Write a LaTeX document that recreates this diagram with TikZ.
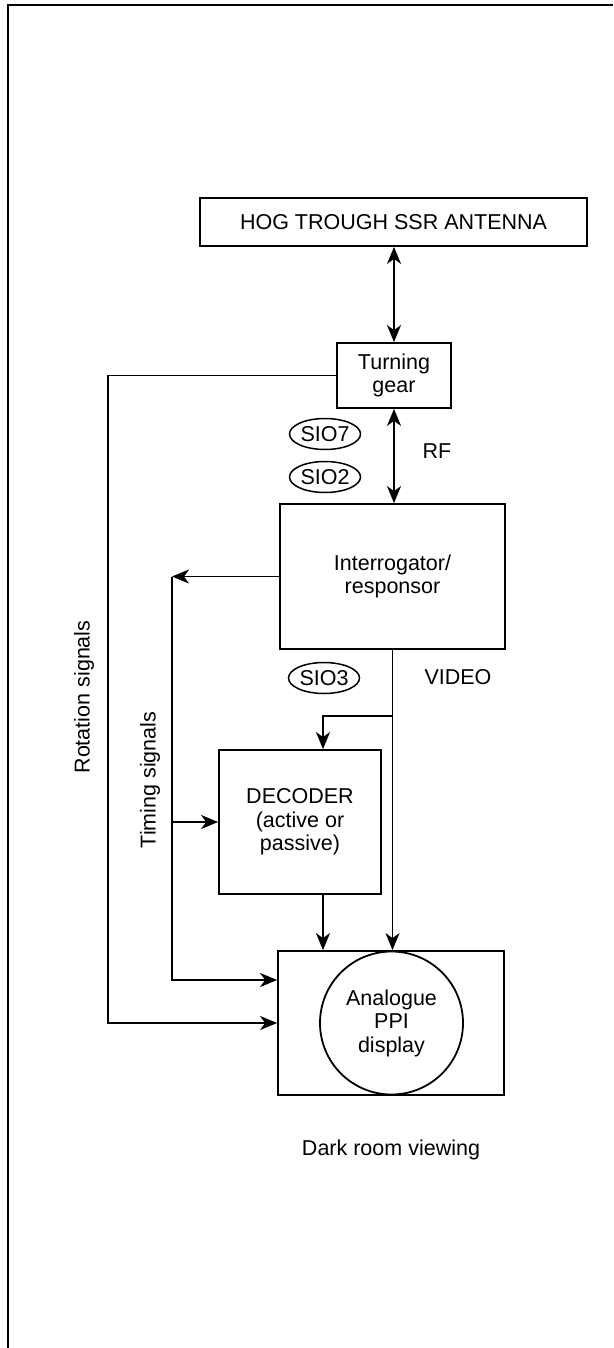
\documentclass[tikz,border=0pt]{standalone}
\usepackage{fontspec}
\setmainfont{Liberation Sans}
\usetikzlibrary{arrows.meta,shapes.geometric}
\newcommand{\dgfont}{\fontsize{21.5}{23.5}\selectfont}
\tikzset{
  box/.style={draw, line width=1.8pt, align=center, inner sep=0pt, font=\dgfont},
  sio/.style={ellipse, draw, line width=1.5pt, inner sep=0pt, minimum width=71pt, minimum height=31pt, font=\dgfont},
  lbl/.style={font=\dgfont, inner sep=0pt},
  ln/.style={line width=1.8pt},
  fl/.style={-{Stealth[length=17pt,width=14pt,inset=5pt]}, ln},
  dfl/.style={{Stealth[length=17pt,width=14pt,inset=5pt]}-{Stealth[length=17pt,width=14pt,inset=5pt]}, ln},
}

\begin{document}
\begin{tikzpicture}[x=1pt, y=-1pt]
  \useasboundingbox (0,0) rectangle (613,1348);
  % ---- frame ----
  \draw[ln] (613,5) -- (8,5) -- (8,1348);

  % ---- blocks ----
  \node[box, minimum width=387pt, minimum height=48pt] (ant) at (393.5,222) {HOG TROUGH SSR ANTENNA};
  \node[box, minimum width=114pt, minimum height=65pt] (gear) at (394,375.5) {Turning\\gear};
  \node[box, minimum width=225pt, minimum height=145pt] (intr) at (392.5,576.5) {Interrogator/\\responsor};
  \node[box, minimum width=162pt, minimum height=144pt] (dec) at (300,822) {DECODER\\(active or\\passive)};
  \node[box, minimum width=226pt, minimum height=144pt] (disp) at (391,1023) {};
  \node[circle, draw, ln, minimum size=143pt, inner sep=0pt, align=center, font=\dgfont] (ppi) at (391.5,1023) {Analogue\\PPI\\display};

  % ---- SIO tags and labels ----
  \node[sio] (sio7) at (325,434) {SIO7};
  \node[sio] (sio2) at (325,477) {SIO2};
  \node[sio] (sio3) at (324,678) {SIO3};
  \node[lbl] (rf) at (437,451) {RF};
  \node[lbl] (video) at (458,677) {VIDEO};
  \node[lbl] (dark) at (391,1150) {Dark room viewing};
  \node[lbl, rotate=90] (rotlbl) at (84,697) {Rotation signals};
  \node[lbl, rotate=90] (timlbl) at (150,780) {Timing signals};

  % ---- connectors ----
  \coordinate (rotx) at (108,0);
  \coordinate (tx) at (172,0);
  \coordinate (vb) at (323,716);
  \draw[dfl] (ant.south -| gear.north) -- (gear.north);
  \draw[dfl] (gear.south) -- (gear.south |- intr.north);
  \draw[fl] (gear.west) -| (rotx |- disp.west) -- (disp.west);
  \draw[fl] (intr.west) -- (intr.west -| tx);
  \draw[fl] (intr.west -| tx) |- ([yshift=43pt]disp.west);
  \draw[fl] (tx |- dec.west) -- (dec.west);
  \draw[fl] (intr.south) -- (intr.south |- disp.north);
  \draw[fl] (intr.south |- vb) -| (vb |- dec.north);
  \draw[fl] (vb |- dec.south) -- (vb |- disp.north);
\end{tikzpicture}
\end{document}
